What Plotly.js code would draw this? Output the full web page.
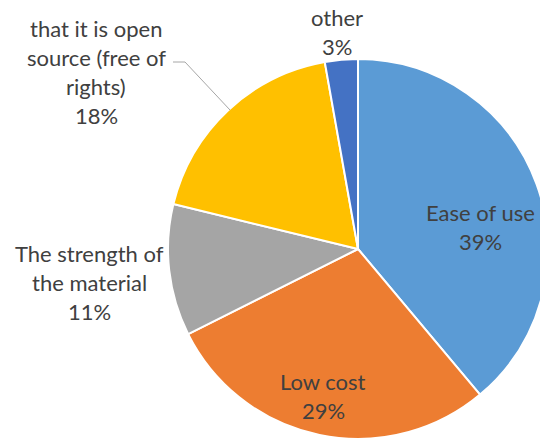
<!DOCTYPE html>
<html>
<head>
<meta charset="utf-8">
<script src="https://cdn.plot.ly/plotly-3.0.1.min.js"></script>
<style>
html, body { margin: 0; padding: 0; overflow: hidden; background: #fff; }
#chart { width: 560px; height: 441px; }
</style>
</head>
<body>
<div id="chart"></div>
<script>
// Data
const labels = ['Ease of use', 'Low cost', 'The strength of the material', 'that it is open source (free of rights)', 'other'];
const displayLines = [['Ease of use'], ['Low cost'], ['The strength of', 'the material'], ['that it is open', 'source (free of', 'rights)'], ['other']];
const values = [38.9, 28.7, 11.2, 18.4, 2.8];
const colors = ['#5B9BD5', '#ED7D31', '#A5A5A5', '#FFC000', '#4472C4'];

// Layout helpers (pixels)
const W = 560, H = 441;
const cx = 358, cy = 249, R = 190;
const labelCenters = [[480, 227], [323, 396], [89, 282], [96, 72], [337, 32]];
const lineGap = 29;

const total = values.reduce((a, b) => a + b, 0);
const annotations = [];
displayLines.forEach((lines, i) => {
  const all = lines.concat([Math.round(values[i] / total * 100) + '%']);
  const n = all.length;
  all.forEach((t, j) => {
    const py = labelCenters[i][1] + (j - (n - 1) / 2) * lineGap;
    annotations.push({
      text: t, xref: 'paper', yref: 'paper',
      x: labelCenters[i][0] / W, y: 1 - py / H,
      xanchor: 'center', yanchor: 'middle', showarrow: false,
      font: { family: 'Lato, sans-serif', size: 22, color: '#404040' }
    });
  });
});

const trace = {
  type: 'pie',
  labels: labels,
  values: values,
  sort: false,
  direction: 'clockwise',
  rotation: 0,
  textinfo: 'none',
  hoverinfo: 'label+percent',
  marker: { colors: colors, line: { color: '#ffffff', width: 2 } },
  domain: { x: [(cx - R) / W, (cx + R) / W], y: [1 - (cy + R) / H, 1 - (cy - R) / H] },
  showlegend: false
};

const layout = {
  width: W, height: H,
  margin: { l: 0, r: 0, t: 0, b: 0 },
  paper_bgcolor: '#ffffff',
  showlegend: false,
  annotations: annotations,
  shapes: [{
    type: 'path', xref: 'paper', yref: 'paper',
    path: 'M ' + (173 / W) + ' ' + (1 - 62 / H) + ' L ' + (185 / W) + ' ' + (1 - 62 / H) + ' L ' + (230 / W) + ' ' + (1 - 110 / H),
    line: { color: '#A6A6A6', width: 1 }
  }]
};

Plotly.newPlot('chart', [trace], layout, { displayModeBar: false, staticPlot: true });
</script>
</body>
</html>
